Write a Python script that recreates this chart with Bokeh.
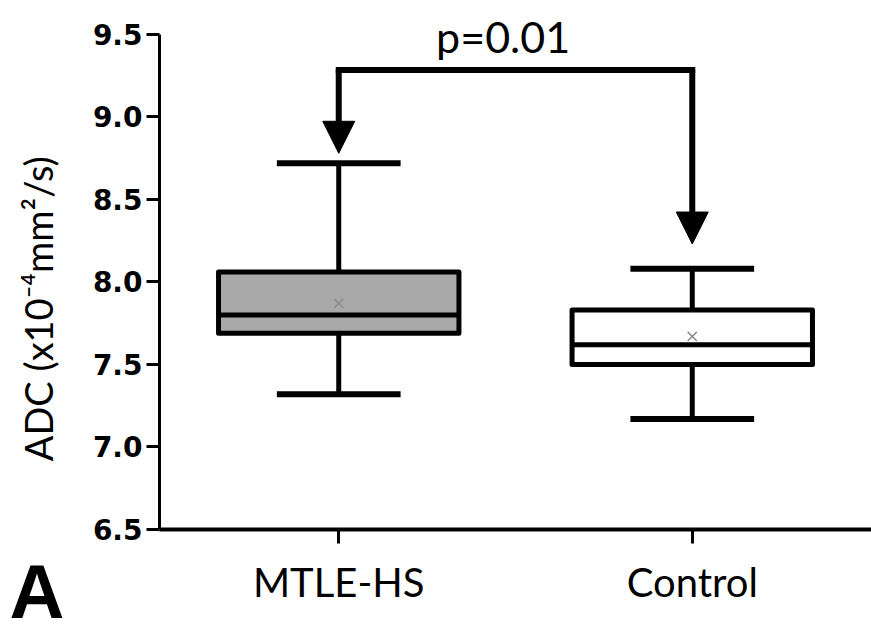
from bokeh.plotting import figure
from bokeh.models import (Range1d, FixedTicker, Label, Arrow, NormalHead, Title,
                          ColumnDataSource, NumeralTickFormatter)
from bokeh.embed import file_html
from bokeh.resources import INLINE

# ---- data ----
groups = ["MTLE-HS", "Control"]
positions = [1, 2]
whisker_low = [7.32, 7.17]
q1 = [7.69, 7.50]
median = [7.80, 7.62]
q3 = [8.06, 7.83]
whisker_high = [8.72, 8.08]
means = [7.87, 7.67]
box_fill = ["#a9a9a9", "#ffffff"]
y_ticks = [6.5, 7.0, 7.5, 8.0, 8.5, 9.0, 9.5]
y_label = "ADC (x10\u207b\u2074mm\u00b2/s)"
p_text = "p=0.01"
bracket_y = 9.285
arrow_tips = [8.78, 8.23]

BOX_W = 0.68
CAP_W = 0.35

src = ColumnDataSource(dict(
    x=positions, lo=whisker_low, q1=q1, med=median, q3=q3, hi=whisker_high,
    mean=means, fill=box_fill,
    bl=[x - BOX_W / 2 for x in positions], br=[x + BOX_W / 2 for x in positions],
    cl=[x - CAP_W / 2 for x in positions], cr=[x + CAP_W / 2 for x in positions],
))

p = figure(width=871, height=637, output_backend="svg", toolbar_location=None,
           x_range=Range1d(0.493, 2.507), y_range=Range1d(6.5, 9.706),
           min_border_left=159, min_border_top=0, min_border_bottom=108,
           min_border_right=0)
p.outline_line_color = None
p.xgrid.visible = False
p.ygrid.visible = False
p.background_fill_color = "white"
p.border_fill_color = "white"

# y axis
ya = p.yaxis[0]
ya.bounds = (y_ticks[0], y_ticks[-1])
ya.ticker = FixedTicker(ticks=y_ticks)
ya.formatter = NumeralTickFormatter(format="0.0")
ya.major_label_text_font = "DejaVu Sans"
ya.major_label_text_font_style = "bold"
ya.major_label_text_font_size = "28px"
ya.major_label_text_color = "black"
ya.major_tick_out = 13
ya.major_tick_in = 0
ya.minor_tick_out = 0
ya.minor_tick_in = 0
ya.major_tick_line_width = 3
ya.axis_line_width = 3
ya.major_label_standoff = 4
# trailing no-break spaces centre the visible label on the drawn axis span
ya.axis_label = y_label + "\u00a0" * 9
ya.axis_label_text_font = "Lato"
ya.axis_label_text_font_style = "normal"
ya.axis_label_text_font_size = "38px"
ya.axis_label_text_color = "black"
ya.axis_label_standoff = 29

# x axis
xa = p.xaxis[0]
xa.ticker = FixedTicker(ticks=positions)
xa.major_label_overrides = {pos: g for pos, g in zip(positions, groups)}
xa.major_label_text_font = "Lato"
xa.major_label_text_font_size = "40px"
xa.major_label_text_color = "black"
xa.major_tick_out = 14
xa.major_tick_in = 0
xa.minor_tick_out = 0
xa.minor_tick_in = 0
xa.major_tick_line_width = 3
xa.axis_line_width = 4
xa.major_label_standoff = 14

# whiskers and caps
p.segment(x0="x", y0="q3", x1="x", y1="hi", source=src, line_color="black", line_width=5)
p.segment(x0="x", y0="lo", x1="x", y1="q1", source=src, line_color="black", line_width=5)
p.segment(x0="cl", y0="hi", x1="cr", y1="hi", source=src, line_color="black", line_width=6)
p.segment(x0="cl", y0="lo", x1="cr", y1="lo", source=src, line_color="black", line_width=6)

# boxes
p.vbar(x="x", width=BOX_W, bottom="q1", top="q3", source=src,
       fill_color="fill", line_color="black", line_width=5, line_join="round")
p.segment(x0="bl", y0="med", x1="br", y1="med", source=src, line_color="black", line_width=5)

# means
p.scatter(x="x", y="mean", source=src, marker="x", size=13,
          line_color="#8c8c8c", line_width=1.5)

# significance bracket
p.line(x=[positions[0], positions[1]], y=[bracket_y, bracket_y],
       line_color="black", line_width=6, line_cap="square")
for xp, tip in zip(positions, arrow_tips):
    p.add_layout(Arrow(x_start=xp, y_start=bracket_y, x_end=xp, y_end=tip,
                       line_color="black", line_width=6,
                       end=NormalHead(size=32, fill_color="black",
                                      line_color="black", line_width=1)))

p.add_layout(Label(x=1.465, y=9.49, text=p_text,
                   text_align="center", text_baseline="middle",
                   text_font="Lato", text_font_size="43px", text_color="black"))

# panel letter as a title in the bottom panel (not clipped by the frame)
p.add_layout(Title(text="A", align="left", offset=-150, standoff=-120,
                   vertical_align="top",
                   text_font="Liberation Sans", text_font_style="bold",
                   text_font_size="76px", text_color="black"), "below")

open("out.html", "w").write(file_html(p, INLINE))
